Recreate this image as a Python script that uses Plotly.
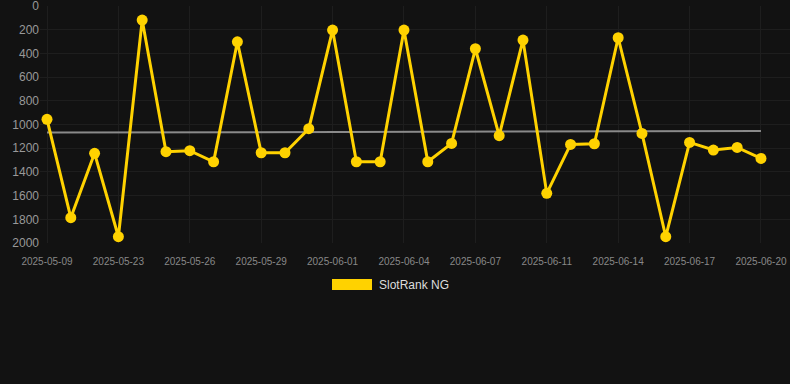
import plotly.graph_objects as go

dates = ["2025-05-09", "2025-05-10", "2025-05-22", "2025-05-23", "2025-05-24", "2025-05-25",
         "2025-05-26", "2025-05-27", "2025-05-28", "2025-05-29", "2025-05-30", "2025-05-31",
         "2025-06-01", "2025-06-02", "2025-06-03", "2025-06-04", "2025-06-05", "2025-06-06",
         "2025-06-07", "2025-06-08", "2025-06-10", "2025-06-11", "2025-06-12", "2025-06-13",
         "2025-06-14", "2025-06-15", "2025-06-16", "2025-06-17", "2025-06-18", "2025-06-19",
         "2025-06-20"]
rank = [956, 1786, 1243, 1947, 118, 1229, 1221, 1314, 301, 1238, 1238, 1035,
        202, 1314, 1314, 202, 1314, 1159, 360, 1094, 287, 1581, 1168, 1162,
        267, 1075, 1947, 1151, 1215, 1193, 1286]
trend_x = [dates[0], dates[-1]]
trend_y = [1068, 1055]
tick_labels = dates[::3]
y_ticks = [0, 200, 400, 600, 800, 1000, 1200, 1400, 1600, 1800, 2000]
series_name = "SlotRank NG"

gold = "#FFD200"
bg = "#121212"
grid = "#1e1e1e"

fig = go.Figure()
fig.add_trace(go.Scatter(
    x=trend_x, y=trend_y, mode="lines",
    line=dict(color="#8a8a8a", width=2), showlegend=False, hoverinfo="skip"))
fig.add_trace(go.Scatter(
    x=dates, y=rank, mode="lines+markers", name=series_name,
    line=dict(color=gold, width=3),
    marker=dict(color=gold, size=11),
    cliponaxis=False, showlegend=False))

# legend drawn as swatch + text
fig.add_shape(type="rect", xref="paper", yref="paper",
              x0=(332 - 40) / 750, x1=(372 - 40) / 750,
              y0=(243 - 290) / 237, y1=(243 - 279) / 237,
              fillcolor=gold, line=dict(width=0))
fig.add_annotation(xref="paper", yref="paper", x=(377 - 40) / 750, y=(243 - 284.5) / 237,
                   text=series_name, showarrow=False, xanchor="left", yanchor="middle",
                   font=dict(size=12, color="#dddddd", family="Liberation Sans, Arial, sans-serif"))

fig.update_layout(
    width=790, height=384,
    margin=dict(l=40, r=0, t=6, b=141),
    paper_bgcolor=bg, plot_bgcolor=bg,
    font=dict(family="Liberation Sans, Arial, sans-serif"),
    showlegend=False,
    xaxis=dict(type="category", categoryorder="array", categoryarray=dates,
               range=[-0.294, 31.22],
               tickmode="array", tickvals=tick_labels, ticktext=tick_labels,
               tickfont=dict(size=10, color="#888888"),
               showgrid=True, gridcolor=grid, gridwidth=1,
               zeroline=False, showline=False, ticks="outside", ticklen=9, tickcolor=bg),
    yaxis=dict(range=[2000, -1], tickmode="array",
               tickvals=y_ticks, ticktext=[str(v) for v in y_ticks],
               tickfont=dict(size=12, color="#999999"), ticklabeloverflow="allow",
               showgrid=True, gridcolor=grid, gridwidth=1,
               zeroline=False, showline=False, ticks="", ticklen=0),
)

fig.write_html("out.html", config={"displayModeBar": False}, post_script=(
    "document.body.style.margin='0';document.body.style.padding='0';"
    "document.body.style.background='#121212';"))
